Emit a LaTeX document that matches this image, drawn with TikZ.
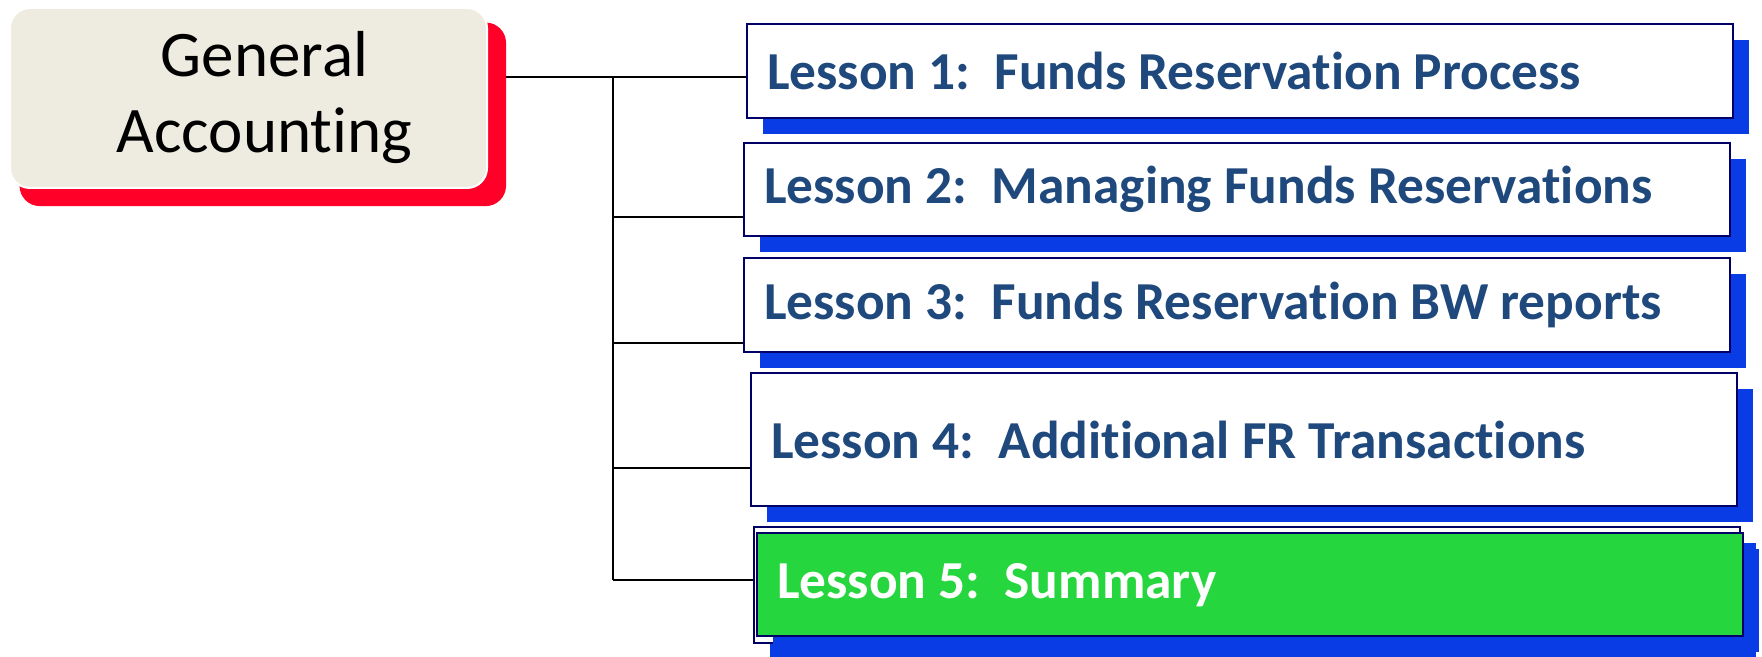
\documentclass[tikz,border=0pt]{standalone}
\usepackage{fontspec}
\setmainfont{Carlito}[Ligatures=NoCommon, RawFeature=-calt]
\usepackage{xcolor}
\usetikzlibrary{shadows,backgrounds}
\frenchspacing

\definecolor{gabeige}{RGB}{238,235,224}
\definecolor{gared}{RGB}{255,0,40}
\definecolor{shadowblue}{RGB}{10,60,230}
\definecolor{boxnavy}{RGB}{0,0,102}
\definecolor{lessongreen}{RGB}{38,214,62}
\definecolor{textblue}{RGB}{31,73,125}

\begin{document}
\begin{tikzpicture}[x=0.5pt,y=-0.5pt,
topic/.style={
% The shape:
rectangle, rounded corners=10pt,
minimum width=238.5pt, minimum height=90pt,
% The rest
draw=white, line width=1pt, fill=gabeige,
general shadow={fill=gared, shadow xshift=7pt, shadow yshift=-8pt, shadow scale=1.02},
align=center, font=\fontsize{32.5}{38}\selectfont},
lesson/.style={
% The shape:
rectangle, anchor=north west,
inner xsep=10pt, inner ysep=0pt, text width=473pt, align=flush left,
% The rest
draw=boxnavy, line width=1.2pt, fill=white,
general shadow={fill=shadowblue, shadow xshift=8pt, shadow yshift=-8pt},
text=textblue, font=\fontsize{26.7}{31}\selectfont\bfseries},
branch/.style={draw=black, line width=0.8pt}]

\useasboundingbox (0,0) rectangle (1762,657);

% text sits a little right of the box centre
\node (GA) [topic] at (248.5,98) {\hspace*{16pt}General\\\hspace*{16pt}Accounting};

\node (L1) [lesson, minimum height=47pt] at (746,23) {Lesson 1:~ Funds Reservation Process};
\node (L2) [lesson, minimum height=46.5pt] at (743,142) {Lesson 2:~ Managing Funds Reservations};
\node (L3) [lesson, minimum height=47pt] at (743,257) {Lesson 3:~ Funds Reservation BW reports};
\node (L4) [lesson, minimum height=66.5pt] at (750,372) {Lesson 4:~ Additional FR Transactions};
\node (L5back) [lesson, minimum height=58pt] at (753,526) {};
\node (L5) [lesson, minimum height=51.5pt, fill=lessongreen, text=white] at (756,532) {Lesson 5:~ Summary};

% tree lines go behind the shadows
\coordinate (j1) at (613,77);
\coordinate (j2) at (613,217);
\coordinate (j3) at (613,343);
\coordinate (j4) at (613,468);
\coordinate (j5) at (613,580);

\begin{scope}[on background layer]
\draw[branch] (j1 -| GA.east) -- (j1 -| L1.west); % main edge
\draw[branch] (j1) -- (j5); % trunk
\draw[branch] (j2) -- (j2 -| L2.west);
\draw[branch] (j3) -- (j3 -| L3.west);
\draw[branch] (j4) -- (j4 -| L4.west);
\draw[branch] (j5) -- (j5 -| L5back.west);
\end{scope}

\end{tikzpicture}
\end{document}
